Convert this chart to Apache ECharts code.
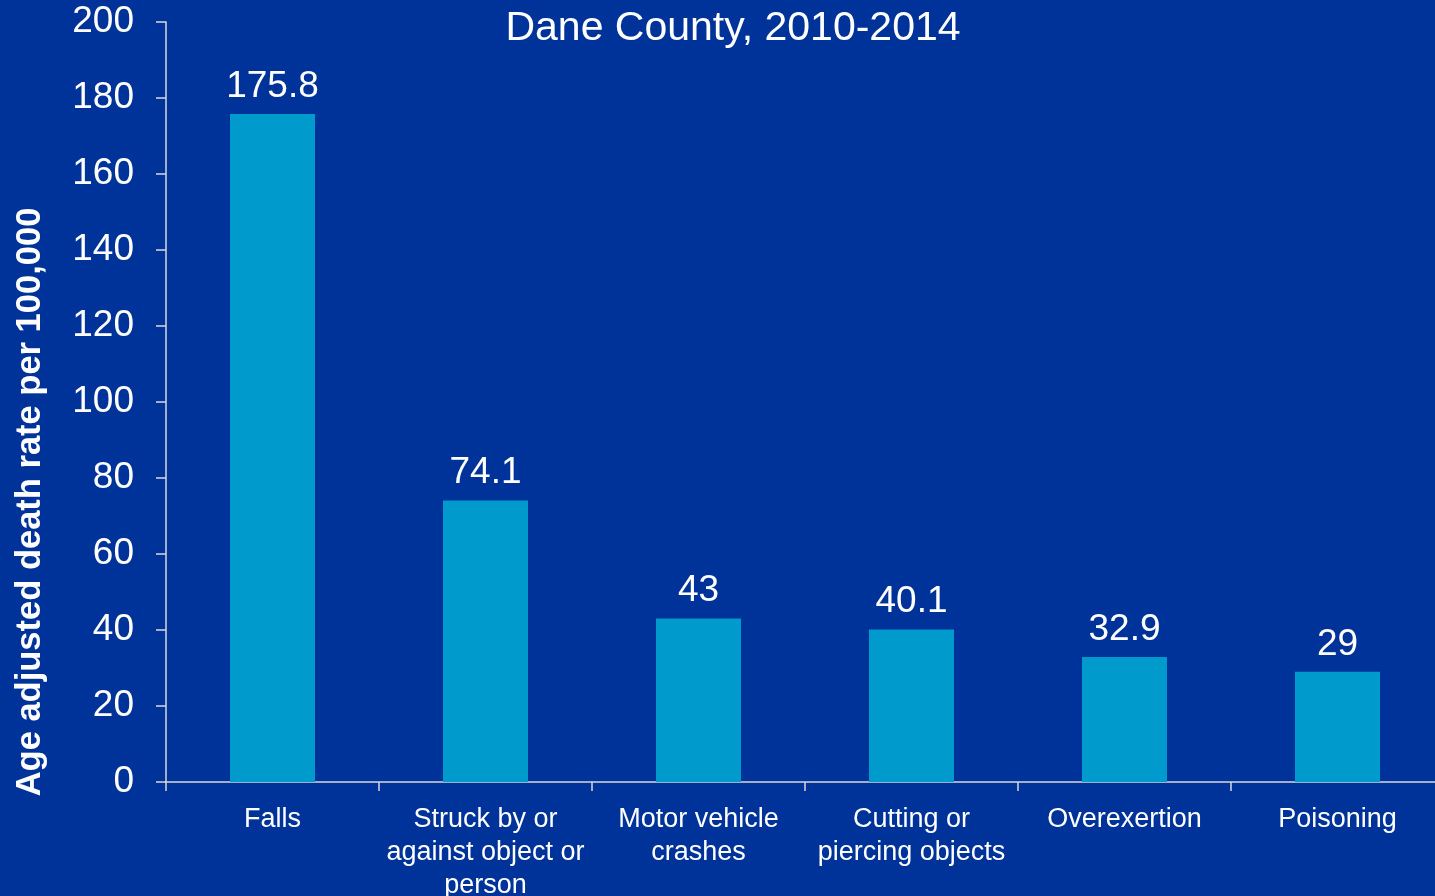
<!DOCTYPE html>
<html>
<head>
<meta charset="utf-8">
<script src="https://cdn.jsdelivr.net/npm/echarts@6/dist/echarts.min.js"></script>
<style>
html,body{margin:0;padding:0;background:#003399;}
#chart{width:1435px;height:896px;}
</style>
</head>
<body>
<div id="chart"></div>
<script>
const categories = ["Falls", "Struck by or\nagainst object or\nperson", "Motor vehicle\ncrashes", "Cutting or\npiercing objects", "Overexertion", "Poisoning"];
const values = [175.8, 74.1, 43, 40.1, 32.9, 29];
const titleText = "Dane County, 2010-2014";
const yAxisTitle = "Age adjusted death rate per 100,000";

const chart = echarts.init(document.getElementById('chart'));
const FONT = '"Liberation Sans", Arial, sans-serif';
chart.setOption({
  backgroundColor: '#003399',
  animation: false,
  title: {
    text: titleText,
    left: 728, top: 3,
    textAlign: 'center',
    textStyle: { color: '#ffffff', fontFamily: FONT, fontSize: 41, fontWeight: 'normal' }
  },
  grid: { left: 166, top: 22, width: 1278, height: 760, containLabel: false, outerBoundsMode: 'none' },
  xAxis: {
    type: 'category',
    data: categories,
    axisLine: { lineStyle: { color: '#D9D9D9', width: 1.5 } },
    axisTick: { show: true, length: 9, lineStyle: { color: '#D9D9D9', width: 1.5 } },
    axisLabel: { color: '#ffffff', fontFamily: FONT, fontSize: 27, lineHeight: 33, margin: 21, interval: 0 }
  },
  yAxis: {
    type: 'value',
    min: 0, max: 200, interval: 20,
    name: yAxisTitle,
    nameLocation: 'middle',
    nameGap: 118,
    nameTextStyle: { color: '#ffffff', fontFamily: FONT, fontSize: 34.5, fontWeight: 'bold', padding: [0, 200, 0, 0] },
    axisLine: { show: true, lineStyle: { color: '#D9D9D9', width: 1.5 } },
    axisTick: { show: true, length: 10, lineStyle: { color: '#D9D9D9', width: 1.5 } },
    splitLine: { show: false },
    axisLabel: { color: '#ffffff', fontFamily: FONT, fontSize: 37, margin: 32 }
  },
  series: [{
    type: 'bar',
    data: values,
    barWidth: 85,
    itemStyle: { color: '#009ACD' },
    label: { show: true, position: 'top', distance: 9, color: '#ffffff', fontFamily: FONT, fontSize: 37 }
  }]
});
</script>
</body>
</html>
